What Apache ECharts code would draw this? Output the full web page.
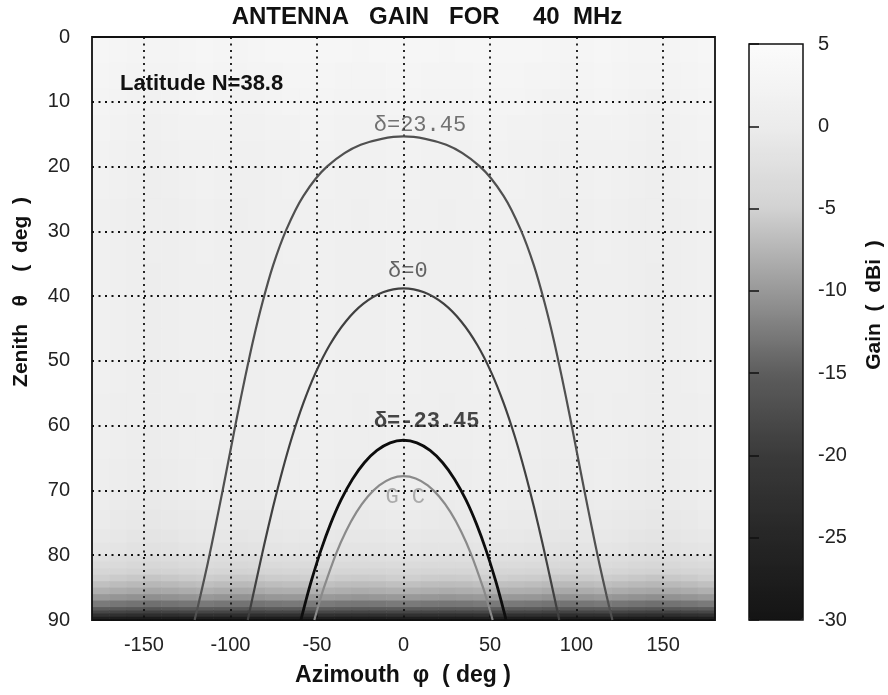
<!DOCTYPE html>
<html>
<head>
<meta charset="utf-8">
<script src="https://cdn.jsdelivr.net/npm/echarts@6/dist/echarts.min.js"></script>
<style>
html,body{margin:0;padding:0;background:#fff;}
#main{width:888px;height:695px;}
</style>
</head>
<body>
<div id="main"></div>
<script>
var zenEdges = [0,4,8,12,16,20,25,30,35,40,45,50,55,60,65,70,73,76,78,80,81,82,83,84,85,86,87,88,88.5,89,89.5,90];
var zenGain = [3.2,2.8,2.4,2.0,1.7,1.4,1.2,1.1,1.0,1.0,1.0,1.0,0.9,0.7,0.4,0.0,-0.4,-0.9,-1.5,-2.7,-3.4,-4.4,-5.5,-6.8,-8.2,-10.2,-12.8,-15.5,-18.5,-22.5,-27.5];
var azEdges = [-180,-170,-160,-150,-140,-130,-120,-110,-100,-90,-80,-70,-60,-50,-40,-30,-20,-10,0,10,20,30,40,50,60,70,80,90,100,110,120,130,140,150,160,170,180];
var azShade = [0.2,-0.1,-0.4,-0.6,-0.4,-0.1,0.1,-0.1,-0.4,-0.3,0.0,0.1,0.2,0.2,0.0,-0.1,0.0,0.2,0.2,0.0,-0.1,0.0,0.2,0.2,0.1,0.0,-0.3,-0.4,-0.1,0.1,-0.1,-0.4,-0.6,-0.4,-0.1,0.2];

// colour bar
var grayStops = ['#141414','#262626','#3a3a3a','#5d5d5d','#999999','#d2d2d2','#ececec','#fbfbfb'];
var azTicks = [-150,-100,-50,0,50,100,150];

// tracks [azimuth, zenith]
var track2345 = [[-120.7,90],[-117.4,86.31],[-112.95,81.03],[-108.7,75.56],[-104.49,69.97],[-100.3,64.26],[-96.07,58.47],[-91.6,52.64],[-86.86,46.8],[-81.5,40.99],[-75.35,35.26],[-67.7,29.74],[-57.81,24.52],[-44.1,19.98],[-24.74,16.64],[0,15.35],[24.74,16.64],[44.1,19.98],[57.81,24.52],[67.7,29.74],[75.35,35.26],[81.5,40.99],[86.86,46.8],[91.6,52.64],[96.07,58.47],[100.3,64.26],[104.49,69.97],[108.7,75.56],[112.95,81.03],[117.4,86.31],[120.7,90]];
var track0 = [[-90,90],[-85.28,84.16],[-80.47,78.36],[-75.45,72.65],[-70.11,67.07],[-64.32,61.68],[-57.93,56.56],[-50.76,51.81],[-42.66,47.55],[-33.46,43.95],[-23.15,41.17],[-11.87,39.41],[0,38.8],[11.87,39.41],[23.15,41.17],[33.46,43.95],[42.66,47.55],[50.76,51.81],[57.93,56.56],[64.32,61.68],[70.11,67.07],[75.45,72.65],[80.47,78.36],[85.28,84.16],[90,90]];
var trackM2345 = [[-59.3,90],[-56.37,86.97],[-53.06,83.79],[-47.79,79.29],[-42.15,75.16],[-36.09,71.46],[-29.59,68.3],[-22.66,65.72],[-15.34,63.82],[-7.75,62.65],[0,62.25],[7.75,62.65],[15.34,63.82],[22.66,65.72],[29.59,68.3],[36.09,71.46],[42.15,75.16],[47.79,79.29],[53.06,83.79],[56.37,86.97],[59.3,90]];
var trackGC = [[-51.53,90],[-49.28,87.88],[-45.99,85],[-38.94,79.74],[-33.23,76.29],[-27.16,73.35],[-20.73,70.98],[-14.01,69.23],[-7.07,68.16],[0,67.8],[7.07,68.16],[14.01,69.23],[20.73,70.98],[27.16,73.35],[33.23,76.29],[38.94,79.74],[45.99,85],[49.28,87.88],[51.53,90]];

var cells = [];
for (var i = 0; i < zenGain.length; i++) {
	for (var j = 0; j < azShade.length; j++) {
		cells.push([azEdges[j], azEdges[j+1], zenEdges[i], zenEdges[i+1], zenGain[i] + azShade[j]]);
	}
}

function renderCell(params, api) {
	var p0 = api.coord([api.value(0), api.value(2)]);
	var p1 = api.coord([api.value(1), api.value(3)]);
	return {
		type: 'rect',
		shape: {
			x: Math.min(p0[0], p1[0]),
			y: Math.min(p0[1], p1[1]),
			width: Math.abs(p1[0] - p0[0]) + 0.6,
			height: Math.abs(p1[1] - p0[1]) + 0.6
		},
		style: { fill: api.visual('color') }
	};
}

var labelFont = 'Liberation Sans, Arial, sans-serif';
var monoFont = 'Liberation Mono, DejaVu Sans Mono, monospace';
var dotted = { color: '#111', width: 1.8, type: [2, 4.5] };
var barTick = { show: true, inside: false, length: 5, lineStyle: { color: '#111', width: 1.5 } };

function caption(x, y, text, size, rot) {
	return {
		type: 'text', x: x, y: y, rotation: rot || 0, z: 20,
		style: { text: text, font: 'bold ' + size + 'px ' + labelFont, fill: '#111', align: 'center', verticalAlign: 'middle', textAlign: 'center', textVerticalAlign: 'middle' }
	};
}

var option = {
	backgroundColor: '#fff',
	animation: false,
	grid: [
		{ left: 92, top: 37, width: 623, height: 583, show: true, borderColor: '#111', borderWidth: 1.8, backgroundColor: 'transparent', z: 3 },
		{ left: 749, top: 44, width: 54, height: 576, show: true, borderColor: '#111', borderWidth: 1.5, backgroundColor: 'transparent', z: 10 }
	],
	xAxis: [{
		type: 'value', min: -180, max: 180, z: 3,
		axisLine: { show: false },
		axisTick: { show: false, customValues: azTicks },
		axisLabel: { customValues: azTicks, fontSize: 20, color: '#222', margin: 15, fontFamily: labelFont },
		splitLine: { show: true, lineStyle: dotted }
	}, {
		gridIndex: 1, type: 'value', min: 0, max: 1, show: false
	}],
	yAxis: [{
		type: 'value', inverse: true, min: 0, max: 90, interval: 10, z: 3,
		axisLine: { show: false },
		axisTick: { show: false },
		axisLabel: { fontSize: 20, color: '#222', margin: 22, fontFamily: labelFont },
		splitLine: { show: true, lineStyle: dotted }
	}, {
		gridIndex: 1, type: 'value', min: -30, max: 5, interval: 5, position: 'right', offset: -5, z: 20,
		axisLine: { show: false },
		axisTick: barTick,
		axisLabel: { fontSize: 20, color: '#222', margin: 20, fontFamily: labelFont },
		splitLine: { show: false }
	}, {
		gridIndex: 1, type: 'value', min: -30, max: 5, interval: 5, position: 'left', offset: -5, z: 20,
		axisLine: { show: false },
		axisTick: barTick,
		axisLabel: { show: false },
		splitLine: { show: false }
	}],
	visualMap: {
		type: 'continuous', min: -30, max: 5, dimension: 4, seriesIndex: 0,
		calculable: false, hoverLink: false, padding: 0,
		left: 749, top: 44, itemWidth: 54, itemHeight: 576,
		inRange: { color: grayStops }, z: 0
	},
	graphic: [
		caption(427, 17, 'ANTENNA   GAIN   FOR     40  MHz', 24),
		caption(403, 676, 'Azimouth  φ  ( deg )', 23),
		caption(21, 292, 'Zenith   θ    (  deg  )', 21, Math.PI / 2),
		caption(874, 305, 'Gain  (  dBi  )', 21, Math.PI / 2),
		{ type: 'text', x: 120, y: 84, z: 20, style: { text: 'Latitude N=38.8', font: 'bold 22px ' + labelFont, fill: '#111', align: 'left', verticalAlign: 'middle', textAlign: 'left', textVerticalAlign: 'middle' } }
	],
	series: [{
		type: 'custom', name: 'gain', renderItem: renderCell, data: cells, z: 1,
		encode: { x: [0, 1], y: [2, 3] }, silent: true
	}, {
		type: 'line', name: 'δ=23.45', data: track2345, smooth: 0.3, showSymbol: false, z: 4,
		lineStyle: { color: '#505050', width: 2.2 }
	}, {
		type: 'line', name: 'δ=0', data: track0, smooth: 0.3, showSymbol: false, z: 4,
		lineStyle: { color: '#404040', width: 2.2 }
	}, {
		type: 'line', name: 'δ=-23.45', data: trackM2345, smooth: 0.3, showSymbol: false, z: 4,
		lineStyle: { color: '#0d0d0d', width: 2.8 }
	}, {
		type: 'line', name: 'G C', data: trackGC, smooth: 0.3, showSymbol: false, z: 4,
		lineStyle: { color: '#8a8a8a', width: 2.2 }
	}, {
		type: 'scatter', name: 'labels', symbolSize: 0, z: 6, silent: true,
		label: { show: true, position: 'inside', fontFamily: monoFont, fontSize: 22 },
		data: [
			{ value: [9.5, 13.6], label: { formatter: 'δ=23.45', color: '#505050' } },
			{ value: [2.5, 36.1], label: { formatter: 'δ=0', color: '#404040' } },
			{ value: [13.4, 59.3], label: { formatter: 'δ=-23.45', color: '#1a1a1a', fontWeight: 'bold' } },
			{ value: [1, 71], label: { formatter: 'G C', color: '#9a9a9a' } }
		]
	}, {
		type: 'line', xAxisIndex: 1, yAxisIndex: 1, data: [], silent: true
	}]
};

var chart = echarts.init(document.getElementById('main'));
chart.setOption(option);
</script>
</body>
</html>
